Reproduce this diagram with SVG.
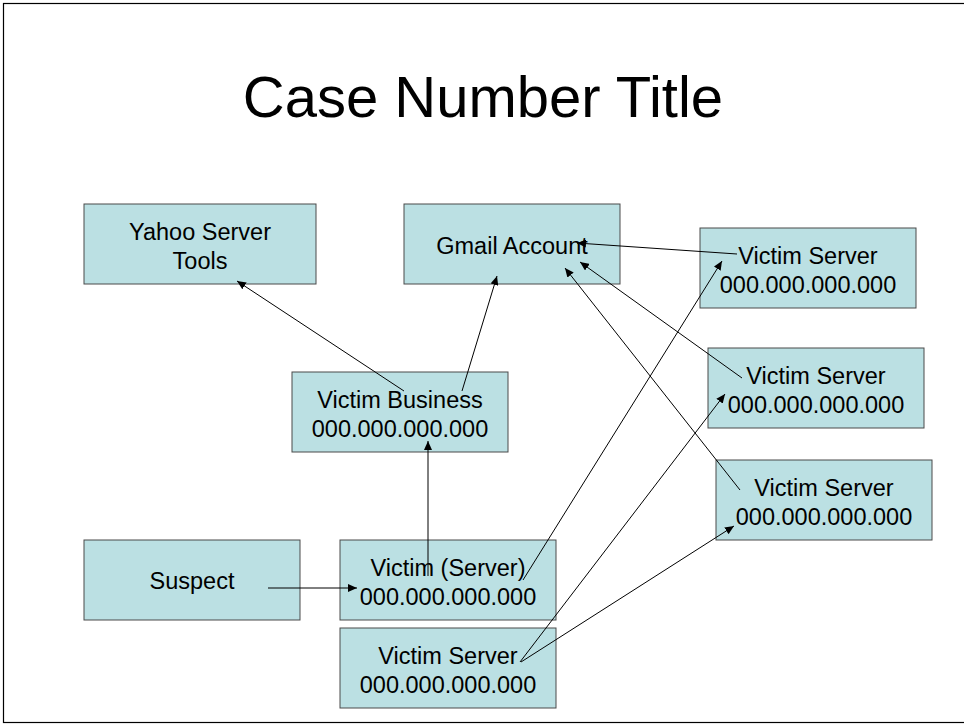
<svg xmlns="http://www.w3.org/2000/svg" width="964" height="725" viewBox="0 0 964 725">
<defs>
<style>
.box{fill:#BBE0E3;stroke:#4a4a4a;stroke-width:1}
.t{font-family:"Liberation Sans",Arial,sans-serif;font-size:23.5px;fill:#000;text-anchor:middle}
.title{font-family:"Liberation Sans",Arial,sans-serif;font-size:58px;fill:#000;text-anchor:middle}
.c{stroke:#000;stroke-width:1;fill:none;marker-end:url(#ah)}
</style>
<marker id="ah" markerUnits="userSpaceOnUse" markerWidth="10" markerHeight="8" refX="9" refY="4" orient="auto">
<path d="M0,0 L9,4 L0,8 Z" fill="#000"/>
</marker>
</defs>
<rect x="0" y="0" width="964" height="725" fill="#fff"/>
<rect x="3.5" y="3.5" width="980" height="719" fill="none" stroke="#000" stroke-width="1.2"/>
<text class="title" x="483" y="117">Case Number Title</text>

<g id="yahoo"><rect class="box" x="84" y="204" width="232" height="80"/>
<text class="t" x="200" y="239.5">Yahoo Server</text><text class="t" x="200" y="268.5">Tools</text></g>
<g id="gmail"><rect class="box" x="404" y="204" width="216" height="80"/>
<text class="t" x="512" y="254">Gmail Account</text></g>
<g id="vs1"><rect class="box" x="700" y="228" width="216" height="80"/>
<text class="t" x="808" y="263.5">Victim Server</text><text class="t" x="808" y="292.5">000.000.000.000</text></g>
<g id="vs2"><rect class="box" x="708" y="348" width="216" height="80"/>
<text class="t" x="816" y="383.5">Victim Server</text><text class="t" x="816" y="412.5">000.000.000.000</text></g>
<g id="vs3"><rect class="box" x="716" y="460" width="216" height="80"/>
<text class="t" x="824" y="495.5">Victim Server</text><text class="t" x="824" y="524.5">000.000.000.000</text></g>
<g id="business"><rect class="box" x="292" y="372" width="216" height="80"/>
<text class="t" x="400" y="407.5">Victim Business</text><text class="t" x="400" y="436.5">000.000.000.000</text></g>
<g id="suspect"><rect class="box" x="84" y="540" width="216" height="80"/>
<text class="t" x="192" y="589">Suspect</text></g>
<g id="victimserver"><rect class="box" x="340" y="540" width="216" height="80"/>
<text class="t" x="448" y="575.5">Victim (Server)</text><text class="t" x="448" y="604.5">000.000.000.000</text></g>
<g id="vs4"><rect class="box" x="340" y="628" width="216" height="80"/>
<text class="t" x="448" y="663.5">Victim Server</text><text class="t" x="448" y="692.5">000.000.000.000</text></g>

<g id="connectors">
<line class="c" x1="404" y1="391" x2="237" y2="281"/>
<line class="c" x1="462" y1="391" x2="497" y2="276"/>
<line class="c" x1="428" y1="576" x2="428" y2="441"/>
<line class="c" x1="268" y1="588" x2="357" y2="588"/>
<line class="c" x1="737" y1="254" x2="577" y2="243"/>
<line class="c" x1="742" y1="378" x2="580" y2="262"/>
<line class="c" x1="740" y1="490" x2="565" y2="268"/>
<line class="c" x1="523" y1="580" x2="722" y2="261"/>
<line class="c" x1="520" y1="662" x2="725" y2="394"/>
<line class="c" x1="521" y1="662" x2="734" y2="526"/>
</g>
</svg>
